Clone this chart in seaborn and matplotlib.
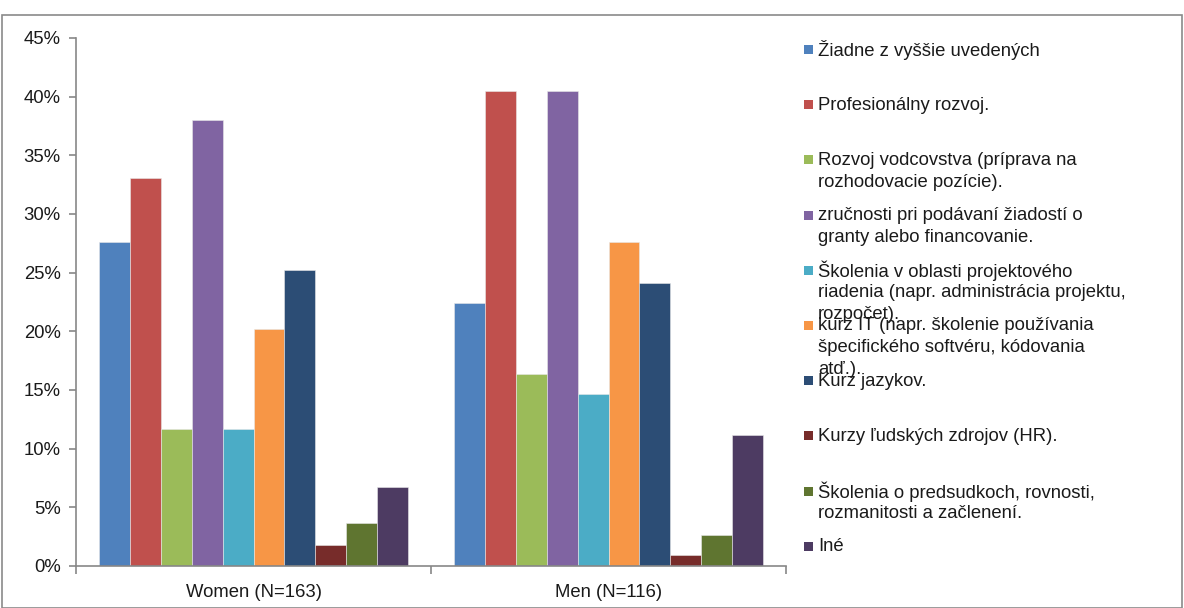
import matplotlib
matplotlib.use("Agg")
import matplotlib.pyplot as plt
from matplotlib.patches import Rectangle
from matplotlib.ticker import PercentFormatter, FixedLocator
import seaborn as sns
import pandas as pd

groups = ["Women (N=163)", "Men (N=116)"]
options = [
    "Žiadne z vyššie uvedených",
    "Profesionálny rozvoj.",
    "Rozvoj vodcovstva (príprava na\nrozhodovacie pozície).",
    "zručnosti pri podávaní žiadostí o\ngranty alebo financovanie.",
    "Školenia v oblasti projektového\nriadenia (napr. administrácia projektu,\nrozpočet).",
    "kurz IT (napr. školenie používania\nšpecifického softvéru, kódovania\natď.).",
    "Kurz jazykov.",
    "Kurzy ľudských zdrojov (HR).",
    "Školenia o predsudkoch, rovnosti,\nrozmanitosti a začlenení.",
    "Iné",
]
women_pct = [27.6, 33.1, 11.7, 38.0, 11.7, 20.2, 25.2, 1.8, 3.7, 6.7]
men_pct = [22.4, 40.5, 16.4, 40.5, 14.7, 27.6, 24.1, 0.9, 2.6, 11.2]
colors = ["#4F81BD", "#C0504D", "#9BBB59", "#8064A2", "#4BACC6",
          "#F79646", "#2C4D75", "#772C2A", "#5F7530", "#4D3B62"]

rows = []
for g, vals in zip(groups, [women_pct, men_pct]):
    for o, v in zip(options, vals):
        rows.append({"group": g, "option": o, "pct": v})
df = pd.DataFrame(rows)

sns.set_theme(style="white")
plt.rcParams["font.family"] = ["Liberation Sans", "DejaVu Sans"]

FS = 13.3
TXT = "#1a1a1a"
W, H = 1184, 608
fig = plt.figure(figsize=(W / 100, H / 100), dpi=100)
ax = fig.add_axes([76 / W, 1 - 566 / H, (786 - 76) / W, (566 - 38) / H])

sns.barplot(data=df, x="group", y="pct", hue="option", hue_order=options,
            order=groups, palette=colors, width=0.87, gap=0,
            saturation=1, edgecolor="#e8e8e8", linewidth=0.4,
            legend=False, ax=ax)

axis_gray = "#878787"
ax.set_xlim(-0.5, 1.5)
ax.set_ylim(0, 45)
ax.set_yticks(range(0, 46, 5))
ax.yaxis.set_major_formatter(PercentFormatter(decimals=0))
ax.set_xlabel("")
ax.set_ylabel("")
for s in ["top", "right"]:
    ax.spines[s].set_visible(False)
for s in ["left", "bottom"]:
    ax.spines[s].set_color(axis_gray)
    ax.spines[s].set_linewidth(1.2)
ax.tick_params(axis="y", left=True, length=5, width=1.2, color=axis_gray,
               labelsize=FS, labelcolor=TXT, pad=6)
ax.tick_params(axis="x", which="major", bottom=False, labelsize=FS,
               labelcolor=TXT, pad=7)
ax.xaxis.set_minor_locator(FixedLocator([-0.5, 0.5, 1.5]))
ax.tick_params(axis="x", which="minor", bottom=True, length=6, width=1.2,
               color=axis_gray)

# outer chart frame
fig.patches.append(Rectangle((2 / W, 0), (W - 4) / W, 1 - 15 / H,
                             transform=fig.transFigure, fill=False,
                             edgecolor="#8a8a8a", linewidth=1.2))

# legend on the right, one entry per option
y0, step, line_h = 50, 55.2, 22
for i, (label, c) in enumerate(zip(options, colors)):
    yc = y0 + i * step
    fig.patches.append(Rectangle((804 / W, 1 - (yc + 4) / H), 9 / W, 9 / H,
                                 transform=fig.transFigure, facecolor=c,
                                 edgecolor="none"))
    for k, line in enumerate(label.split("\n")):
        fig.text(818 / W, 1 - (yc + k * line_h) / H, line, fontsize=FS,
                 color=TXT, va="center", ha="left")

fig.savefig("out.png", dpi=100, facecolor="white")
